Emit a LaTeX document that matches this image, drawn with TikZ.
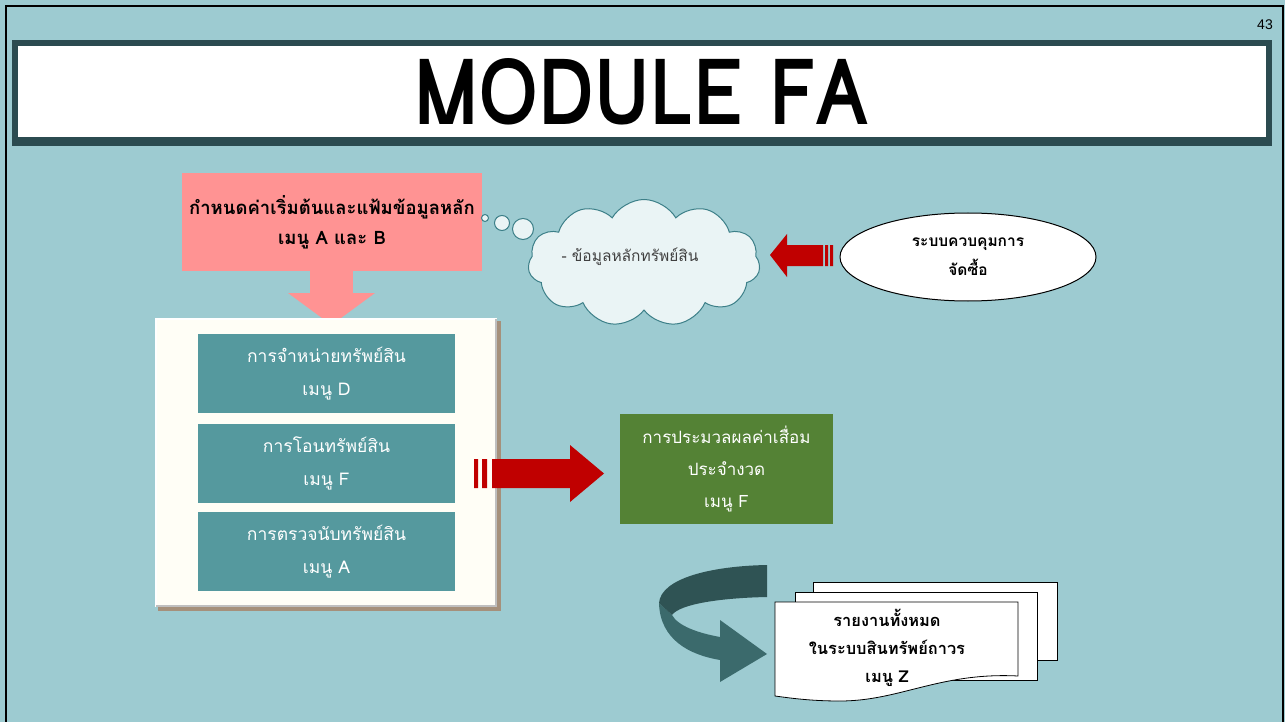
\documentclass[tikz,border=0pt]{standalone}
\usepackage{fontspec}
\setmainfont{Liberation Sans}
\newfontfamily\thai[Script=Thai]{Loma}
\usetikzlibrary{calc,positioning,shapes.symbols,shapes.geometric}

\definecolor{slidebg}{HTML}{9DCBD1}
\definecolor{titleedge}{HTML}{2B4B50}
\definecolor{setuppink}{HTML}{FF9393}
\definecolor{menuteal}{HTML}{55999E}
\definecolor{deprgreen}{HTML}{548235}
\definecolor{flowred}{HTML}{C00000}
\definecolor{cloudfill}{HTML}{EAF4F5}
\definecolor{cloudedge}{HTML}{3C7F88}
\definecolor{frameivory}{HTML}{FFFEF6}
\definecolor{loopdark}{HTML}{2F5354}
\definecolor{looplight}{HTML}{3B6A6C}

\tikzset{
  menubox/.style={fill=menuteal,text=white,minimum width=257pt,minimum height=79pt,
    inner sep=0pt,align=center,font=\thai\fontsize{17.5}{33}\selectfont},
  sheet/.style={fill=white,draw=black,line width=0.8pt},
}

\begin{document}
\begin{tikzpicture}[x=1pt,y=-1pt]
  \useasboundingbox (0,0) rectangle (1285,722);
  \fill[slidebg] (0,0) rectangle (1285,722);
  \draw[line width=2.5pt] (6,6) rectangle (1283,740);
  \node[font=\fontsize{14}{14}\selectfont] (pageno) at (1265,25) {43};

  % title bar
  \fill[titleedge] (12,40) rectangle (1272,146);
  \fill[white] (18,46) rectangle (1266,137);
  \node[font=\thai\bfseries\fontsize{92}{92}\selectfont] (title) at (641,92) {\scalebox{0.84}[1]{MODULE FA}};

  % setup box and its down arrow
  \fill[setuppink] (310,268) rectangle (353,294);
  \fill[setuppink] (288,293) -- (375,293) -- (331.5,325) -- cycle;
  \node[fill=setuppink,minimum width=300pt,minimum height=97pt,inner sep=0pt,align=center,
    font=\thai\bfseries\fontsize{18.5}{30}\selectfont] (setup) at (332,222)
    {กำหนดค่าเริ่มต้นและแฟ้มข้อมูลหลัก\\เมนู A และ B};

  % thought bubbles and cloud
  \foreach \cx/\cy/\r in {485/218/3.5, 502/223/7.5, 523/229/10.5}
    \draw[cloudedge,fill=cloudfill,line width=1pt] (\cx,\cy) circle (\r);
  \node[cloud,cloud puffs=11,cloud puff arc=120,aspect=1.9,draw=cloudedge,fill=cloudfill,
    line width=1pt,minimum width=232pt,minimum height=127pt,inner sep=0pt] (master) at (644,263) {};
  \node[text=black!75,font=\thai\fontsize{15.5}{15.5}\selectfont] (mastertxt) at (630,257) {- ข้อมูลหลักทรัพย์สิน};

  % purchasing system
  \node[ellipse,draw=black,fill=white,line width=1pt,minimum width=256pt,minimum height=88pt,
    inner sep=0pt,align=center,font=\thai\bfseries\fontsize{15.5}{29}\selectfont] (purchase) at (968,257)
    {ระบบควบคุมการ\\จัดซื้อ};
  \fill[flowred] (770,255) -- (787,234) -- (787,245) -- (823,245) -- (823,266) -- (787,266) -- (787,277) -- cycle;
  \fill[flowred] (825,245) rectangle (828,266) (830,245) rectangle (833,266);

  % menu frame
  \fill[black!45!brown!60] (158,321) rectangle (501,611);
  \fill[frameivory] (155,318) rectangle (497,607);
  \draw[white,line width=2pt] (156,606) -- (156,319) -- (496,319);
  \draw[black!25,line width=1.5pt] (496,319) -- (496,606) -- (156,606);
  \node[menubox] (dispose) at (326.5,373.5) {การจำหน่ายทรัพย์สิน\\เมนู D};
  \node[menubox] (transfer) at (326.5,463) {การโอนทรัพย์สิน\\เมนู F};
  \node[menubox] (count) at (326.5,551.5) {การตรวจนับทรัพย์สิน\\เมนู A};

  % depreciation
  \node[fill=deprgreen,text=white,minimum width=213pt,minimum height=110pt,inner sep=0pt,align=center,
    font=\thai\fontsize{17}{32}\selectfont] (depr) at (726.5,469)
    {การประมวลผลค่าเสื่อม\\ประจำงวด\\เมนู F};
  \fill[flowred] (474,459) rectangle (478,488) (482,459) rectangle (487,488);
  \fill[flowred] (492,459) -- (570,459) -- (570,445) -- (604,473.5) -- (570,502) -- (570,488) -- (492,488) -- cycle;

  % curved arrow
  \fill[looplight] (659,603) .. controls (660,640) and (690,655) .. (720,660) -- (720,682) -- (767,654)
    -- (720,620) -- (720,637) .. controls (698,633) and (678,626) .. (672,615) -- cycle;
  \fill[loopdark] (767,565) .. controls (712,566) and (661,578) .. (659,603) -- (672,615)
    .. controls (680,604) and (720,598) .. (767,597) -- cycle;

  % reports
  \draw[sheet] (813,582) rectangle (1057,660);
  \draw[sheet] (795,592) rectangle (1037,680);
  \draw[sheet] (775,602) -- (1018,602) -- (1018,676) .. controls (940,672) and (900,701) .. (840,701)
    .. controls (810,701) and (790,698) .. (775,696) -- cycle;
  \node[align=center,font=\thai\bfseries\fontsize{16.4}{28}\selectfont] (report) at (887,648)
    {รายงานทั้งหมด\\ในระบบสินทรัพย์ถาวร\\เมนู Z};
\end{tikzpicture}
\end{document}
